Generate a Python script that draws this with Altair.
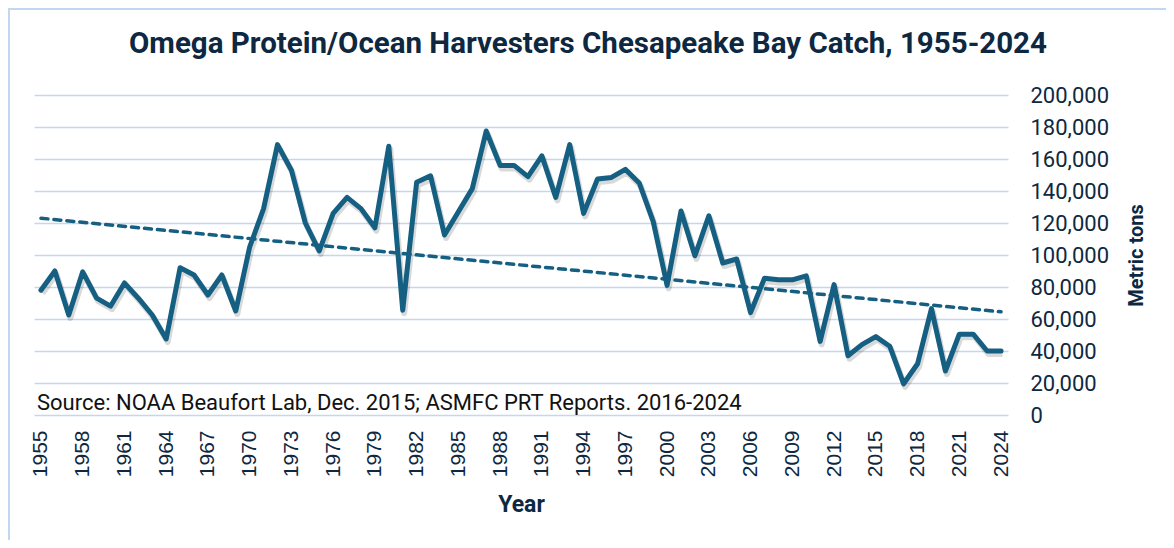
import altair as alt
import pandas as pd

years = list(range(1955, 2025))
catch = [
    78000, 90000, 62500, 89500, 73000, 68000, 82500, 73000, 62500, 47500,
    92000, 87500, 75000, 87500, 65000, 105000, 129000, 169000, 153000, 120000,
    102500, 126000, 136000, 129000, 117000, 168000, 65500, 145500, 149500, 112500,
    127000, 141500, 177500, 156000, 156000, 149000, 162000, 136000, 169000, 126000,
    147500, 148500, 153500, 145000, 121000, 81000, 127500, 99500, 124500, 95000,
    97500, 64000, 85500, 84500, 84500, 87000, 46000, 81500, 37000, 44000,
    49000, 43000, 19500, 32000, 66500, 27500, 50500, 50500, 40000, 40000,
]
# Linear trendline as drawn in the reference (end points)
trend_years = [1955, 2024]
trend_values = [123000, 64500]

x_ticks = list(range(1955, 2025, 3))
y_ticks = list(range(0, 200001, 20000))

title_text = "Omega Protein/Ocean Harvesters Chesapeake Bay Catch, 1955-2024"
source_text = "Source: NOAA Beaufort Lab, Dec. 2015; ASMFC PRT Reports. 2016-2024"

NAVY = "#0E2841"
LINE = "#156082"
GRID = "#C2D7F0"

df = pd.DataFrame({"year": years, "catch": catch})
tdf = pd.DataFrame({"year": trend_years, "catch": trend_values})

W, H = 974, 320

x_enc = alt.X(
    "year:Q",
    scale=alt.Scale(domain=[1954.5, 2024.5], nice=False, zero=False),
    axis=alt.Axis(
        values=x_ticks, format="d", labelAngle=270, labelAlign="right",
        labelBaseline="middle", labelFont="Liberation Sans",
        labelFontSize=21, labelColor=NAVY, labelPadding=15,
        ticks=False, domain=False, grid=False,
        title="Year", titleFont="Roboto", titleFontSize=23,
        titleFontWeight="bold", titleColor=NAVY, titleX=W / 2, titleY=96,
        titleAlign="center", titleBaseline="alphabetic",
    ),
)
y_enc = alt.Y(
    "catch:Q",
    scale=alt.Scale(domain=[0, 200000], nice=False),
    axis=alt.Axis(
        orient="right", values=y_ticks, format=",d",
        labelFont="Roboto", labelFontSize=22, labelColor=NAVY,
        labelPadding=22, labelAlign="left", labelBaseline="middle",
        ticks=False, domain=False, grid=True, gridColor=GRID, gridWidth=1.5,
        title="Metric tons", titleAngle=270, titleX=128, titleY=H / 2,
        titleAlign="center", titleBaseline="middle", titleFont="Roboto",
        titleFontSize=20, titleFontWeight="bold", titleColor=NAVY,
    ),
)

base = alt.Chart(df).encode(x=x_enc, y=y_enc)

shadow = base.mark_line(
    color="#000000", opacity=0.15, strokeWidth=6, strokeJoin="round",
    xOffset=1.5, yOffset=3,
)
line = base.mark_line(color=LINE, strokeWidth=5, strokeJoin="round", strokeCap="round")
trend = alt.Chart(tdf).mark_line(
    color=LINE, strokeWidth=3.5, strokeDash=[7, 6], strokeCap="round"
).encode(x=x_enc, y=y_enc)

note = alt.Chart(pd.DataFrame({"t": [source_text]})).mark_text(
    align="left", baseline="alphabetic", font="Roboto", fontSize=22, color="#111111"
).encode(text="t:N", x=alt.value(3), y=alt.value(315))

title = alt.Chart(pd.DataFrame({"t": [title_text]})).mark_text(
    align="center", baseline="alphabetic", font="Roboto", fontSize=29.5,
    fontWeight="bold", color=NAVY
).encode(text="t:N", x=alt.value(554), y=alt.value(-42))

border = alt.Chart(pd.DataFrame({"a": [0]})).mark_rect(
    fill="transparent", stroke=GRID, strokeWidth=2
).encode(x=alt.value(-25), y=alt.value(-86), x2=alt.value(1300), y2=alt.value(700))

chart = alt.layer(border, shadow, line, trend, note, title).properties(
    width=W,
    height=H,
    autosize=alt.AutoSizeParams(type="none"),
    padding={"left": 26, "top": 87, "right": 158, "bottom": 125},
    background="white",
).configure_view(stroke=None)

chart.save("out.html", embed_options={"renderer": "svg", "actions": False})
